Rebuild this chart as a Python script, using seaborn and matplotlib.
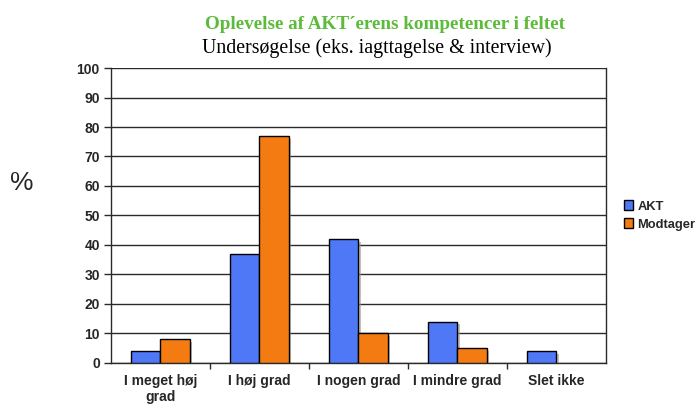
import pandas as pd
import matplotlib
matplotlib.use("Agg")
import matplotlib.pyplot as plt
import matplotlib.patheffects as pe
from matplotlib.patches import Patch
import seaborn as sns

kategorier = ['I meget høj\ngrad', 'I høj grad', 'I nogen grad', 'I mindre grad', 'Slet ikke']
akt = [4, 37, 42, 14, 4]
modtager = [8, 77, 10, 5, 0]
serier = ['AKT', 'Modtager']
farver = ['#4F78F7', '#F47A12']

df = pd.DataFrame({
    'Kategori': kategorier * 2,
    'Procent': akt + modtager,
    'Serie': ['AKT'] * len(akt) + ['Modtager'] * len(modtager),
})

sns.set_style('white')
plt.rcParams['font.family'] = ['Liberation Sans', 'DejaVu Sans']

fig = plt.figure(figsize=(6.98, 4.05), dpi=100)
ax = fig.add_axes([0.159, 0.104, 0.709, 0.728])

sns.barplot(data=df, x='Kategori', y='Procent', hue='Serie', hue_order=serier,
            palette=farver, saturation=1, width=0.59, edgecolor='black',
            linewidth=1, legend=False, ax=ax)

# grey drop shadow like the original spreadsheet chart; hide empty bars
shadow = [pe.SimplePatchShadow(offset=(2, -2), shadow_rgbFace='#999999', alpha=0.6), pe.Normal()]
for p in ax.patches:
    if p.get_height() == 0:
        p.set_visible(False)
        continue
    p.set_path_effects(shadow)
    p.set_zorder(3)

ax.set_ylim(0, 100)
ax.set_xlim(-0.5, len(kategorier) - 0.5)
ax.set_yticks(range(0, 101, 10))
ax.yaxis.grid(True, color='#2a2a2a', linewidth=1)
ax.set_axisbelow(True)

for side in ['left', 'right', 'bottom']:
    ax.spines[side].set_visible(True)
    ax.spines[side].set_color('#2a2a2a')
    ax.spines[side].set_linewidth(1)
ax.spines['top'].set_visible(False)

ax.set_xlabel('')
ax.set_ylabel('')
ax.tick_params(axis='y', which='major', direction='out', length=5, width=1, color='#2a2a2a',
               left=True, labelsize=10, pad=3)
ax.tick_params(axis='x', which='major', length=0, labelsize=10, pad=8)
ax.set_xticks(range(len(kategorier)))
ax.set_xticklabels(kategorier, fontweight='bold', linespacing=1.15)
ax.set_xticks([i + 0.5 for i in range(len(kategorier) - 1)], minor=True)
ax.tick_params(axis='x', which='minor', direction='out', length=4, width=1,
               color='#2a2a2a', bottom=True)
for lbl in ax.get_yticklabels():
    lbl.set_fontweight('bold')

fig.text(0.552, 0.940, 'Oplevelse af AKT\u00b4erens kompetencer i feltet',
         family=['Liberation Serif', 'DejaVu Serif'], fontweight='bold', fontsize=13.8,
         color='#5CBB3A', ha='center', va='center')
fig.text(0.540, 0.880, 'Undersøgelse (eks. iagttagelse & interview)',
         family=['Liberation Serif', 'DejaVu Serif'], fontsize=14.3,
         color='black', ha='center', va='center')
fig.text(0.031, 0.548, '%', fontsize=19, ha='center', va='center')

handles = [Patch(facecolor=c, edgecolor='black', linewidth=1) for c in farver]
leg = fig.legend(handles, serier, loc='center left', bbox_to_anchor=(0.877, 0.468),
                 frameon=False, handlelength=0.75, handleheight=0.75, handletextpad=0.3,
                 labelspacing=0.45, prop={'weight': 'bold', 'size': 9.3})

fig.savefig('out.png', dpi=100)
